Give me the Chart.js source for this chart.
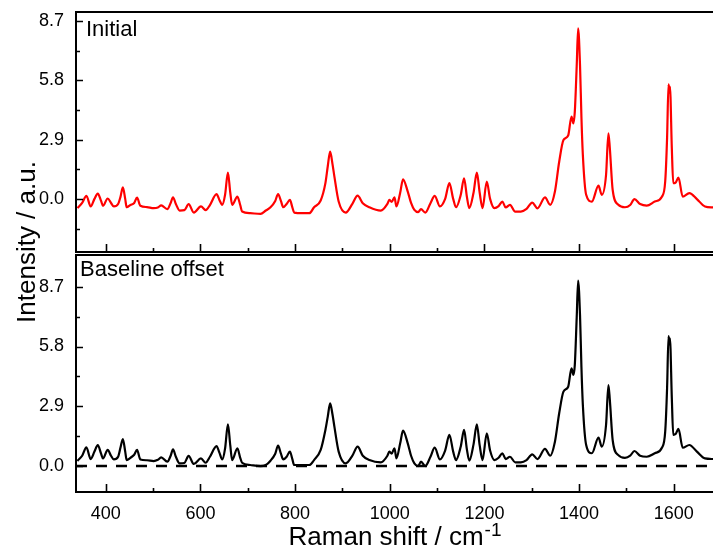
<!DOCTYPE html>
<html>
<head>
<meta charset="utf-8">
<script src="https://cdn.jsdelivr.net/npm/chart.js@4.4.1/dist/chart.umd.min.js"></script>
<style>
  html, body { margin: 0; padding: 0; background: #fff; }
  #wrap { position: relative; width: 713px; height: 552px; overflow: hidden; }
  #wrap canvas { position: absolute; left: 0; top: 0; }
</style>
</head>
<body>
<div id="wrap">
  <canvas id="lower" width="713" height="552"></canvas>
  <canvas id="upper" width="713" height="552"></canvas>
</div>
<script>
// Raman shift (cm^-1) of each sampled point
const ramanShift = [
  340, 350, 359, 368, 376, 383, 390, 394, 404, 411, 417, 426, 431, 436, 441, 444, 452, 460, 466, 473,
  487, 501, 510, 517, 530, 537, 542, 548, 556, 566, 575, 586, 601, 611, 620, 634, 640, 646, 652, 658,
  663, 667, 678, 684, 688, 705, 727, 738, 748, 758, 764, 770, 775, 782, 789, 794, 798, 815, 830, 840,
  854, 864, 869, 874, 879, 883, 892, 907, 921, 932, 943, 957, 981, 995, 999, 1004, 1010, 1014, 1022, 1028,
  1038, 1045, 1052, 1060, 1066, 1075, 1086, 1095, 1106, 1117, 1126, 1134, 1140, 1150, 1157, 1163, 1168, 1177, 1184, 1190,
  1196, 1205, 1212, 1221, 1230, 1238, 1245, 1254, 1265, 1277, 1289, 1301, 1312, 1328, 1339, 1349, 1358, 1367, 1377, 1384,
  1388, 1391, 1395, 1398, 1402, 1405, 1408, 1415, 1427, 1441, 1448, 1457, 1462, 1465, 1471, 1483, 1497, 1508, 1517, 1529,
  1543, 1560, 1575, 1582, 1586, 1589, 1591, 1592, 1596, 1599, 1604, 1610, 1619, 1633, 1649, 1666, 1684
];

// Raw spectrum
const initialIntensity = [
  -0.45, -0.20, 0.15, -0.37, 0.00, 0.26, -0.10, -0.34, 0.02, -0.20, -0.37, -0.25, 0.10, 0.57, 0.00, -0.41, -0.30, -0.20, 0.06, -0.34,
  -0.40, -0.45, -0.42, -0.32, -0.50, -0.20, 0.08, -0.25, -0.57, -0.55, -0.26, -0.67, -0.37, -0.55, -0.30, 0.23, -0.05, -0.29, 0.20, 1.29,
  0.30, -0.29, 0.11, -0.30, -0.62, -0.70, -0.73, -0.57, -0.41, -0.10, 0.24, -0.10, -0.41, -0.25, -0.05, -0.40, -0.67, -0.70, -0.70, -0.41,
  -0.08, 0.77, 1.60, 2.31, 1.70, 1.09, -0.13, -0.67, -0.24, 0.16, -0.21, -0.41, -0.57, -0.24, -0.05, -0.15, 0.08, -0.37, 0.30, 0.96,
  0.36, -0.20, -0.54, -0.65, -0.50, -0.67, -0.21, 0.15, -0.37, 0.00, 0.77, 0.00, -0.41, 0.20, 1.01, 0.10, -0.45, 0.30, 1.29, 0.30,
  -0.45, 0.85, 0.00, -0.45, -0.35, -0.13, -0.42, -0.29, -0.62, -0.62, -0.49, -0.18, -0.46, 0.07, -0.29, 0.36, 1.82, 2.88, 3.10, 4.03,
  3.70, 4.27, 6.50, 8.35, 6.55, 4.00, 2.15, 0.20, -0.13, 0.65, 0.20, 1.17, 3.21, 2.48, 0.44, -0.29, -0.41, -0.30, -0.01, -0.25,
  -0.33, -0.13, 0.11, 0.85, 3.00, 5.61, 5.20, 5.50, 2.48, 0.77, 0.80, 1.04, 0.11, 0.28, -0.01, -0.37, -0.42
];

// Spectrum after baseline offset correction
const offsetIntensity = [
  0.25, 0.50, 0.91, 0.34, 0.70, 1.02, 0.60, 0.37, 0.78, 0.50, 0.32, 0.45, 0.90, 1.31, 0.70, 0.29, 0.40, 0.55, 0.78, 0.32,
  0.28, 0.24, 0.30, 0.42, 0.21, 0.50, 0.81, 0.45, 0.13, 0.15, 0.49, 0.10, 0.37, 0.16, 0.45, 0.97, 0.65, 0.32, 0.85, 2.02,
  1.00, 0.29, 0.86, 0.40, 0.16, 0.05, 0.00, 0.05, 0.26, 0.60, 0.99, 0.60, 0.32, 0.45, 0.70, 0.35, 0.05, 0.05, 0.05, 0.29,
  0.78, 1.75, 2.40, 3.04, 2.50, 1.91, 0.70, 0.13, 0.50, 0.94, 0.50, 0.29, 0.18, 0.50, 0.70, 0.60, 0.86, 0.37, 1.10, 1.72,
  1.10, 0.50, 0.13, 0.00, 0.21, 0.00, 0.45, 0.89, 0.32, 0.75, 1.51, 0.70, 0.29, 0.95, 1.75, 0.80, 0.26, 1.05, 2.02, 1.00,
  0.29, 1.59, 0.75, 0.29, 0.40, 0.62, 0.34, 0.45, 0.18, 0.18, 0.29, 0.57, 0.34, 0.83, 0.50, 1.18, 2.56, 3.61, 3.85, 4.74,
  4.42, 4.91, 7.20, 9.00, 7.33, 4.80, 2.96, 1.02, 0.62, 1.38, 0.94, 1.99, 3.93, 3.21, 1.26, 0.53, 0.40, 0.50, 0.73, 0.50,
  0.45, 0.62, 0.89, 1.67, 3.80, 6.31, 5.90, 6.20, 3.29, 1.51, 1.55, 1.80, 0.89, 1.02, 0.70, 0.37, 0.34
];

// Axis ticks
const xTickValues = [400, 600, 800, 1000, 1200, 1400, 1600];
const xMinorValues = [500, 700, 900, 1100, 1300, 1500];
const yTickValues = [0, 2.9, 5.8, 8.7];
const yMinorValues = [-1.45, 1.45, 4.35, 7.25];

// Axis ranges
const shiftMin = 337, shiftMax = 1683;
const upperMin = -2.6, upperMax = 9.15;
const lowerMin = -1.26, lowerMax = 10.24;

// Zero reference of the corrected spectrum
const zeroLineShift = [shiftMin, shiftMax];
const zeroLineValue = [0, 0];

const FONT = '"Liberation Sans", Arial, Helvetica, sans-serif';

const toPoints = (xs, ys) => xs.map((x, i) => ({ x, y: ys[i] }));

// Open frame (left, top, bottom) with inward major/minor ticks
const framePlugin = {
  id: 'frame',
  afterDatasetsDraw(chart) {
    const { ctx, chartArea: a, scales: { x, y } } = chart;
    ctx.save();
    ctx.strokeStyle = '#000';
    ctx.lineWidth = 2;
    ctx.beginPath();
    ctx.moveTo(a.right + 2, a.top);
    ctx.lineTo(a.left, a.top);
    ctx.lineTo(a.left, a.bottom);
    ctx.lineTo(a.right + 2, a.bottom);
    ctx.stroke();
    ctx.lineWidth = 1.6;
    ctx.beginPath();
    const xt = (v, len) => {
      if (v < x.min || v > x.max) return;
      const px = Math.round(x.getPixelForValue(v)) + 0.5;
      ctx.moveTo(px, a.bottom); ctx.lineTo(px, a.bottom - len);
    };
    const yt = (v, len) => {
      if (v < y.min || v > y.max) return;
      const py = Math.round(y.getPixelForValue(v)) + 0.5;
      ctx.moveTo(a.left, py); ctx.lineTo(a.left + len, py);
    };
    xTickValues.forEach(v => xt(v, 8));
    xMinorValues.forEach(v => xt(v, 4));
    yTickValues.forEach(v => yt(v, 7));
    yMinorValues.forEach(v => yt(v, 4));
    ctx.stroke();
    ctx.restore();
  }
};

// Panel caption in the upper-left corner of the plot area
const captionPlugin = {
  id: 'caption',
  afterDraw(chart, args, opts) {
    if (!opts.text) return;
    const { ctx, chartArea: a } = chart;
    ctx.save();
    ctx.fillStyle = '#000';
    ctx.font = '22px ' + FONT;
    ctx.textBaseline = 'alphabetic';
    ctx.textAlign = 'left';
    ctx.fillText(opts.text, a.left + opts.dx, a.top + opts.dy);
    ctx.restore();
  }
};

// Shared axis titles (drawn by the lower chart)
const titlePlugin = {
  id: 'axisTitles',
  afterDraw(chart, args, opts) {
    if (!opts.enabled) return;
    const { ctx, chartArea: a } = chart;
    ctx.save();
    ctx.fillStyle = '#000';
    // x title with superscript
    const main = 'Raman shift / cm';
    const sup = '-1';
    ctx.font = '26px ' + FONT;
    const wMain = ctx.measureText(main).width;
    ctx.font = '19px ' + FONT;
    const wSup = ctx.measureText(sup).width;
    const startX = (a.left + a.right) / 2 - (wMain + wSup) / 2;
    const base = a.bottom + 53;
    ctx.textAlign = 'left';
    ctx.textBaseline = 'alphabetic';
    ctx.font = '26px ' + FONT;
    ctx.fillText(main, startX, base);
    ctx.font = '19px ' + FONT;
    ctx.fillText(sup, startX + wMain + 1, base - 9);
    // y title spanning both panels
    ctx.font = '26px ' + FONT;
    ctx.translate(35, opts.yCenter);
    ctx.rotate(-Math.PI / 2);
    ctx.textAlign = 'center';
    ctx.fillText('Intensity / a.u.', 0, 0);
    ctx.restore();
  }
};

function panelOptions(cfg) {
  return {
    responsive: false,
    animation: false,
    events: [],
    layout: { padding: cfg.padding },
    plugins: {
      legend: { display: false },
      tooltip: { enabled: false },
      caption: cfg.caption,
      axisTitles: cfg.titles || { enabled: false }
    },
    elements: { point: { radius: 0 } },
    scales: {
      x: {
        type: 'linear',
        min: shiftMin,
        max: shiftMax,
        display: cfg.showX,
        afterBuildTicks: s => { s.ticks = xTickValues.map(v => ({ value: v })); },
        afterFit: s => { s.height = cfg.showX ? 60 : 0; },
        grid: { display: false, drawTicks: false },
        border: { display: false },
        ticks: {
          padding: 11,
          color: '#000',
          font: { family: FONT, size: 18 },
          maxRotation: 0,
          autoSkip: false,
          callback: v => String(v)
        }
      },
      y: {
        type: 'linear',
        min: cfg.yMin,
        max: cfg.yMax,
        afterBuildTicks: s => { s.ticks = yTickValues.map(v => ({ value: v })); },
        afterFit: s => { s.width = 76; s.paddingTop = 0; s.paddingBottom = 0; },
        grid: { display: false, drawTicks: false },
        border: { display: false },
        ticks: {
          padding: 12,
          color: '#000',
          font: { family: FONT, size: 18 },
          autoSkip: false,
          callback: v => v.toFixed(1)
        }
      }
    }
  };
}

new Chart(document.getElementById('upper'), {
  type: 'line',
  data: {
    datasets: [{
      label: 'Initial',
      data: toPoints(ramanShift, initialIntensity),
      borderColor: '#ff0000',
      borderWidth: 2.2,
      cubicInterpolationMode: 'monotone',
      fill: false
    }]
  },
  options: panelOptions({
    padding: { top: 12, right: 0, bottom: 300, left: 0 },
    showX: false,
    yMin: upperMin,
    yMax: upperMax,
    caption: { text: 'Initial', dx: 10, dy: 24 }
  }),
  plugins: [framePlugin, captionPlugin]
});

new Chart(document.getElementById('lower'), {
  type: 'line',
  data: {
    datasets: [{
      label: 'Baseline offset',
      data: toPoints(ramanShift, offsetIntensity),
      borderColor: '#000000',
      borderWidth: 2.2,
      cubicInterpolationMode: 'monotone',
      fill: false
    }, {
      label: 'zero',
      data: toPoints(zeroLineShift, zeroLineValue),
      borderColor: '#000000',
      borderWidth: 2.5,
      borderDash: [11, 9],
      fill: false
    }]
  },
  options: panelOptions({
    padding: { top: 255, right: 0, bottom: 0, left: 0 },
    showX: true,
    yMin: lowerMin,
    yMax: lowerMax,
    caption: { text: 'Baseline offset', dx: 4, dy: 21 },
    titles: { enabled: true, yCenter: 242 }
  }),
  plugins: [framePlugin, captionPlugin, titlePlugin]
});
</script>
</body>
</html>
